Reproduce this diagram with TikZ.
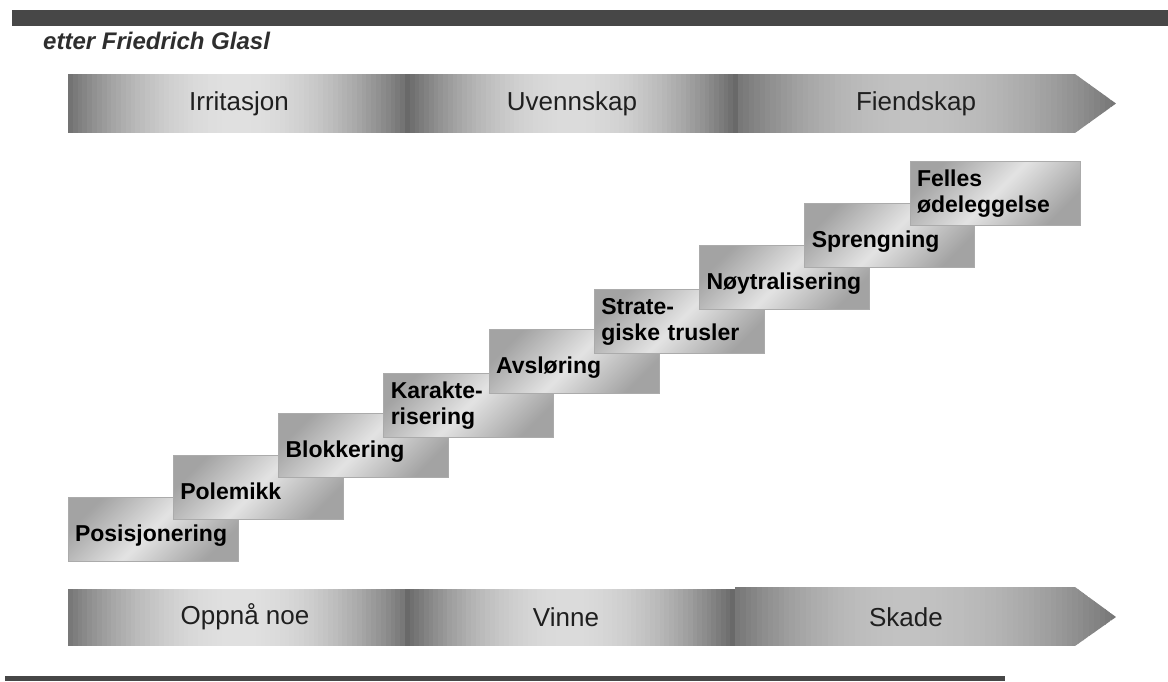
\documentclass[tikz,border=0pt]{standalone}
\usepackage{fontspec}
\setmainfont{Liberation Sans}
\usetikzlibrary{positioning}

% grey band, light at xc, dark at both ends: x0 xc x1 ytop ybot dark light
\newcommand{\phaseband}[7]{%
  \foreach \k in {0,...,69} {%
    \pgfmathsetmacro{\xw}{(#3-#1)/70}
    \pgfmathsetmacro{\xa}{#1+\xw*\k}
    \pgfmathsetmacro{\xb}{\xa+\xw}
    \pgfmathsetmacro{\xm}{\xa+\xw/2}
    \pgfmathsetmacro{\tq}{max((#2-\xm)/(#2-#1),(\xm-#2)/(#3-#2))}
    \pgfmathsetmacro{\pc}{#7+(#6-#7)*\tq*\tq}
    \fill[black!\pc] (\xa,#4) rectangle (\xb+0.7,#5);
  }}

\begin{document}
\begin{tikzpicture}[x=1pt, y=-1pt,
    stepbox/.style={draw=black!33, line width=1pt, top color=black!36, bottom color=black!36, middle color=black!11, shading angle=45, minimum width=170pt, minimum height=64pt, text width=156pt, align=left, inner xsep=7pt, inner ysep=0pt, font=\fontsize{23}{26}\selectfont\bfseries},
    onestep/.style={stepbox, text height=24pt, text depth=0pt},
    phase/.style={font=\fontsize{26}{30}\selectfont, text=black!88}]

    \useasboundingbox (0,0) rectangle (1168,681);

    \fill[black!72] (12,10) rectangle (1168,26);
    \fill[black!72] (5,676) rectangle (1005,681);
    \node[anchor=base west, inner sep=0pt, text=black!82, font=\fontsize{24}{27}\selectfont\bfseries\itshape] (src) at (43,49) {etter Friedrich Glasl};

    \phaseband{68}{237}{405}{74}{133}{56}{12}
    \phaseband{405}{572}{738}{74}{133}{60}{14}
    \begin{scope}
    \clip (738,74) -- (1075,74) -- (1116,103.5) -- (1075,133) -- (738,133) -- cycle;
    \phaseband{738}{914}{1116}{74}{133}{54}{24}
    \end{scope}
    \node[phase] (irr) at (239,104) {Irritasjon};
    \node[phase] (uve) at (572,104) {Uvennskap};
    \node[phase] (fie) at (916,104) {Fiendskap};

    \phaseband{68}{240}{405}{589}{646}{54}{12}
    \phaseband{405}{568}{735}{589}{646}{60}{14}
    \begin{scope}
    \clip (735,587) -- (1075,587) -- (1116,617) -- (1075,646) -- (735,646) -- cycle;
    \phaseband{735}{906}{1116}{587}{646}{54}{24}
    \end{scope}
    \node[phase] (opp) at (245,617) {Oppnå noe};
    \node[phase] (vin) at (566,617) {Vinne};
    \node[phase] (ska) at (906,617) {Skade};

    \node[onestep] (S1) at (153,529) {Posisjonering};
    \node[onestep] (S2) at (258.25,487.1) {Polemikk};
    \node[onestep] (S3) at (363.5,445.2) {Blokkering};
    \node[stepbox] (S4) at (468.75,405.3) {Karakte-\\risering};
    \node[onestep] (S5) at (574,361.4) {Avsløring};
    \node[stepbox] (S6) at (679.25,321.5) {Strate-\\giske trusler};
    \node[onestep] (S7) at (784.5,277.6) {Nøytralisering};
    \node[onestep] (S8) at (889.75,235.7) {Sprengning};
    \node[stepbox] (S9) at (995,193.8) {Felles\\ødeleggelse};

\end{tikzpicture}
\end{document}
